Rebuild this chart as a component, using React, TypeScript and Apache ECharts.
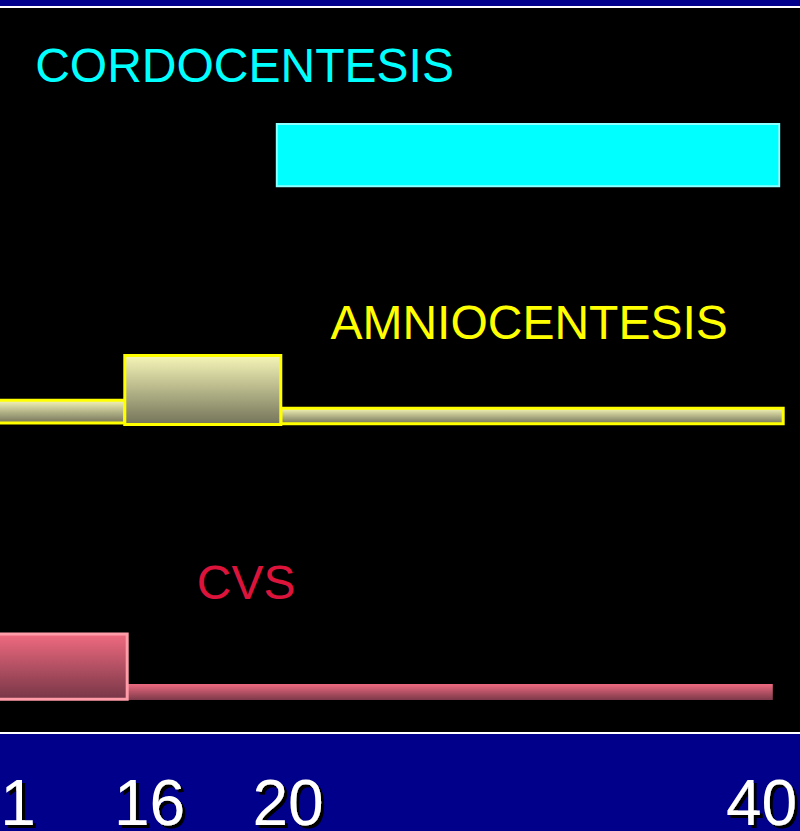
import React, { useEffect, useRef } from 'react';
import * as echarts from 'echarts';

// Horizontal positions are in "percent of slide width", vertical in "percent of plot height" (top = 0).
const tickPositions = [2.25, 18.7, 36.0, 95.2];
const tickLabels = ['1', '16', '20', '40'];

const procedureNames = ['CORDOCENTESIS', 'AMNIOCENTESIS', 'CVS'];
const procedureLabelX = [4.4, 41.3, 24.6];
const procedureLabelY = [8.9, 44.0, 79.5];
const procedureColors = ['#00FFFF', '#FFFF00', '#DC143C'];

// [xStart, xEnd, yTop, yBottom]
const cordoSegments = [[34.6, 97.4, 16.9, 25.4]];
const amnioSegments = [
  [-0.5, 15.6, 54.6, 57.7],
  [35.1, 97.9, 55.7, 57.8],
  [15.6, 35.1, 48.5, 57.9],
];
const cvsSegments = [
  [15.9, 96.6, 93.3, 95.5],
  [-0.5, 15.9, 86.5, 95.4],
];

const grad = (top: string, bottom: string) =>
  new echarts.graphic.LinearGradient(0, 0, 0, 1, [
    { offset: 0, color: top },
    { offset: 1, color: bottom },
  ]);

function rectSeries(data: number[][], styleFor: (i: number) => any) {
  return {
    type: 'custom',
    data,
    renderItem: (params: any, api: any) => {
      const p0 = api.coord([api.value(0), api.value(2)]);
      const p1 = api.coord([api.value(1), api.value(3)]);
      return {
        type: 'rect',
        shape: { x: p0[0], y: p0[1], width: p1[0] - p0[0], height: p1[1] - p0[1] },
        style: styleFor(params.dataIndex),
      };
    },
  };
}

export default function App() {
  const ref = useRef<HTMLDivElement>(null);
  useEffect(() => {
    if (!ref.current) return;
    const chart = echarts.init(ref.current, null, { renderer: 'svg' });
    const labelData = procedureNames.map((n, i) => [procedureLabelX[i], procedureLabelY[i], i]);
    chart.setOption({
      animation: false,
      backgroundColor: '#000000',
      grid: {
        left: 0,
        right: 0,
        top: 0,
        height: 733,
        containLabel: false,
        outerBoundsMode: 'none',
      },
      xAxis: {
        type: 'value',
        min: 0,
        max: 100,
        splitLine: { show: false },
        axisTick: { show: false },
        axisLine: { show: true, onZero: false, lineStyle: { color: '#FFFFFF', width: 2 } },
        axisLabel: {
          customValues: tickPositions,
          formatter: (v: number) => {
            let best = 0;
            tickPositions.forEach((t, i) => {
              if (Math.abs(t - v) < Math.abs(tickPositions[best] - v)) best = i;
            });
            return tickLabels[best];
          },
          color: '#FFFFFF',
          fontFamily: '"Liberation Sans", Arial, sans-serif',
          fontSize: 64,
          lineHeight: 50,
          verticalAlign: 'middle',
          margin: 70,
          textShadowColor: '#000000',
          textShadowOffsetX: 3,
          textShadowOffsetY: 3,
          textShadowBlur: 1,
        },
      },
      yAxis: {
        type: 'value',
        min: 0,
        max: 100,
        inverse: true,
        show: false,
      },
      graphic: [
        { type: 'rect', z: -10, shape: { x: 0, y: 0, width: 800, height: 6 }, style: { fill: '#00008C' } },
        { type: 'rect', z: -10, shape: { x: 0, y: 6, width: 800, height: 2 }, style: { fill: '#FFFFFF' } },
        { type: 'rect', z: -10, shape: { x: 0, y: 734, width: 800, height: 97 }, style: { fill: '#00008A' } },
      ],
      series: [
        rectSeries(cordoSegments, () => ({ fill: '#00FFFF', stroke: '#8CFFFF', lineWidth: 2 })),
        rectSeries(amnioSegments, () => ({
          fill: grad('#F6F6B8', '#74745A'),
          stroke: '#FFFF00',
          lineWidth: 3,
        })),
        rectSeries(cvsSegments, (i) =>
          i === 0
            ? { fill: grad('#EE6A80', '#7C3A4A'), lineWidth: 0 }
            : { fill: grad('#F06A80', '#763646'), stroke: '#FF9CA8', lineWidth: 3 }
        ),
        {
          type: 'custom',
          data: labelData,
          renderItem: (params: any, api: any) => {
            const p = api.coord([api.value(0), api.value(1)]);
            const i = api.value(2);
            return {
              type: 'text',
              x: p[0],
              y: p[1],
              style: {
                text: procedureNames[i],
                fill: procedureColors[i],
                font: '48px "Liberation Sans", Arial, sans-serif',
                align: 'left',
                verticalAlign: 'middle',
              },
            };
          },
        },
      ],
    });
    return () => chart.dispose();
  }, []);
  return (
    <div
      ref={ref}
      style={{ position: 'fixed', left: 0, top: 0, width: 800, height: 831 }}
    />
  );
}
